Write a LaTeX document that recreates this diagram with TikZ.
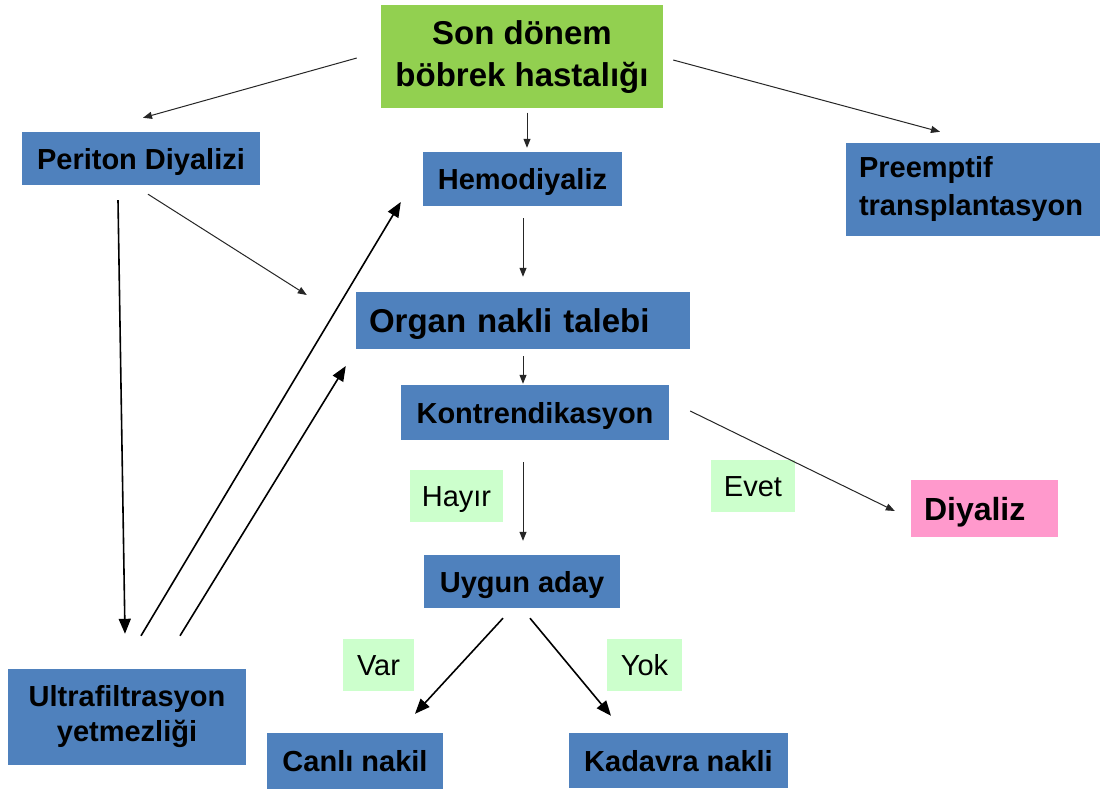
\documentclass[tikz,border=0pt]{standalone}
\usepackage{fontspec}
\setmainfont{Liberation Sans}
\usetikzlibrary{arrows.meta,calc}
\definecolor{boxblue}{HTML}{4F81BD}
\definecolor{sgreen}{HTML}{92D050}
\definecolor{lgreen}{HTML}{CCFFCC}
\definecolor{dpink}{HTML}{FF99CC}
\begin{document}
\begin{tikzpicture}[x=1pt,y=-1pt,
  bx/.style={fill=boxblue, inner sep=0pt, align=center, font=\bfseries\fontsize{29}{35}\selectfont},
  one/.style={text height=21pt, text depth=0pt},
  onebig/.style={text height=23.5pt, text depth=0pt},
  lab/.style={fill=lgreen, inner sep=0pt, text height=21pt, text depth=0pt, font=\fontsize{29}{35}\selectfont},
  tarrow/.style={draw=black!85, line width=1pt, -{Triangle[length=9pt,width=7pt]}},
  barrow/.style={draw=black, line width=1.6pt, -{Triangle[length=15pt,width=12pt]}}]
\path[use as bounding box, fill=white] (0,0) rectangle (1104,792);

\node[bx, fill=sgreen, minimum width=282, minimum height=103, font=\bfseries\fontsize{33}{42}\selectfont] (son) at (522,57) {Son dönem\\böbrek hastalığı};
\node[bx, one, minimum width=238, minimum height=53] (per) at (141,158.5) {Periton Diyalizi};
\node[bx, one, minimum width=199, minimum height=54] (hemo) at (522.5,179) {Hemodiyaliz};
\node[bx, text width=228, inner xsep=13, minimum height=93, align=left, font=\bfseries\fontsize{29}{38}\selectfont] (pre) at (973,189.5) {Preemptif\\transplantasyon};
\node[bx, onebig, text width=308, inner xsep=13, minimum height=57, align=left, font=\bfseries\fontsize{33}{38}\selectfont] (org) at (523,320.5) {Organ nakli talebi};
\node[bx, one, minimum width=268, minimum height=55] (kon) at (535,412.5) {Kontrendikasyon};
\node[lab, minimum width=93, minimum height=52] (hay) at (456.5,496) {Hayır};
\node[lab, minimum width=84, minimum height=52] (evet) at (753,486) {Evet};
\node[bx, onebig, fill=dpink, text width=121, inner xsep=13, minimum height=57, align=left, font=\bfseries\fontsize{32}{38}\selectfont] (diy) at (984.5,508.5) {Diyaliz};
\node[bx, one, minimum width=196, minimum height=53] (uyg) at (522,581.5) {Uygun aday};
\node[lab, minimum width=71, minimum height=52] (var) at (378.5,665) {Var};
\node[lab, minimum width=75, minimum height=52] (yok) at (644.5,665) {Yok};
\node[bx, minimum width=238, minimum height=96] (ult) at (127,717) {Ultrafiltrasyon\\yetmezliği};
\node[bx, one, minimum width=176, minimum height=56] (can) at (355,761) {Canlı nakil};
\node[bx, one, minimum width=219, minimum height=55] (kad) at (678.5,760.5) {Kadavra nakli};

\draw[tarrow] ([shift={(-24,1)}]son.west) -- ([shift={(2,-14)}]per.north);
\draw[tarrow] ([shift={(5,4)}]son.south) -- ([shift={(4.5,-4)}]hemo.north);
\draw[tarrow] ([shift={(10,3)}]son.east) -- ([shift={(-33,-11)}]pre.north);
\draw[tarrow] ([shift={(7,9)}]per.south) -- ([shift={(-49,-25.5)}]org.west);
\draw[barrow] ([shift={(-23,15)}]per.south) -- ([shift={(-2,-35)}]ult.north);
\draw[barrow] ([shift={(14,-33)}]ult.north) -- ([shift={(-22,23)}]hemo.west);
\draw[barrow] ([shift={(53,-33)}]ult.north) -- ([shift={(-10,45.5)}]org.west);
\draw[tarrow] ([shift={(0.5,12)}]hemo.south) -- ([shift={(0,-15)}]org.north);
\draw[tarrow] ([shift={(0,7)}]org.south) -- ([shift={(-12,-1)}]kon.north);
\draw[tarrow] ([shift={(21,-1.5)}]kon.east) -- ([shift={(-16,2.5)}]diy.west);
\draw[tarrow] ([shift={(-12,22)}]kon.south) -- ([shift={(1,-14)}]uyg.north);
\draw[barrow] ([shift={(-19,10)}]uyg.south) -- ([shift={(60,-19)}]can.north);
\draw[barrow] ([shift={(8,10)}]uyg.south) -- ([shift={(-67.5,-17)}]kad.north);
\end{tikzpicture}
\end{document}
